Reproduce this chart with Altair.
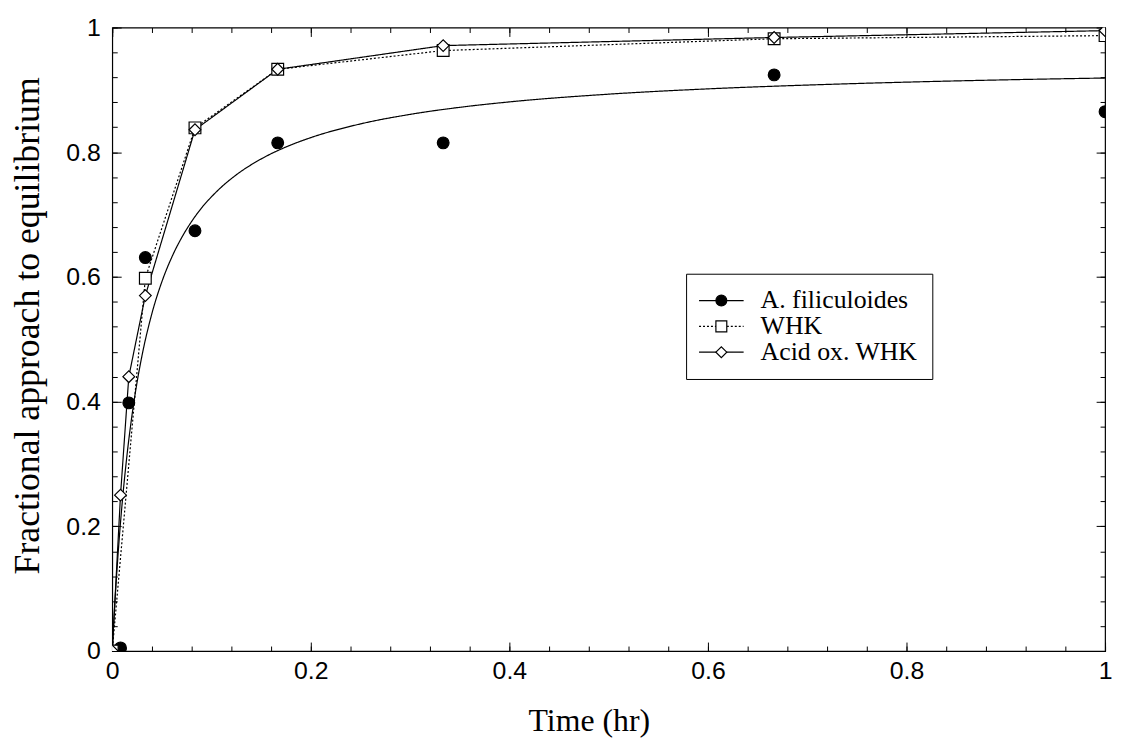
import altair as alt
import pandas as pd

SERIES = ["A. filiculoides", "WHK", "Acid ox. WHK"]
# marker legend keys (kept distinct so the marker legend stays a separate overlay)
MARKER_KEYS = ["A. filiculoides ", "WHK ", "Acid ox. WHK "]

# Measured points (time in hr, fractional approach to equilibrium)
afil_x = [0.00833, 0.01667, 0.03333, 0.08333, 0.16667, 0.33333, 0.66667, 1.0]
afil_y = [0.005, 0.398, 0.631, 0.674, 0.815, 0.815, 0.924, 0.865]

whk_x = [0.0, 0.03333, 0.08333, 0.16667, 0.33333, 0.66667, 1.0]
whk_y = [0.0, 0.598, 0.839, 0.933, 0.963, 0.982, 0.987]

acid_x = [0.0, 0.00833, 0.01667, 0.03333, 0.08333, 0.16667, 0.33333, 0.66667, 1.0]
acid_y = [0.0, 0.25, 0.44, 0.57, 0.836, 0.933, 0.971, 0.984, 0.995]

# Fitted curve for A. filiculoides
fit_x = [0.0, 0.0025, 0.005, 0.0075, 0.01, 0.015, 0.02, 0.025, 0.03, 0.04, 0.05,
         0.06, 0.07, 0.08, 0.09, 0.1, 0.11, 0.125, 0.15, 0.175, 0.2, 0.25, 0.3, 0.35, 0.4,
         0.5, 0.6, 0.7, 0.8, 0.9, 1.0]
fit_y = [0.0, 0.073, 0.1356, 0.1898, 0.2372, 0.3162, 0.3794, 0.431, 0.474, 0.5416,
         0.5923, 0.6317, 0.6632, 0.689, 0.7107, 0.7286, 0.7442, 0.7638, 0.7892, 0.8084,
         0.8234, 0.8454, 0.8607, 0.872, 0.8807, 0.8931, 0.9016, 0.9077, 0.9124, 0.9161, 0.919]

x_major = [0, 0.2, 0.4, 0.6, 0.8, 1.0]
y_major = [0, 0.2, 0.4, 0.6, 0.8, 1.0]
minor_ticks = [round(i * 0.04, 2) for i in range(26)]

# ---- tables ----
line_rows = []
for xs, ys, name in [(whk_x, whk_y, SERIES[1]), (acid_x, acid_y, SERIES[2])]:
    for i, (a, b) in enumerate(zip(xs, ys)):
        line_rows.append({"x": a, "y": b, "series": name, "idx": i})
lines_df = pd.DataFrame(line_rows)

fit_df = pd.DataFrame({"x": fit_x, "y": fit_y, "series": SERIES[0]})

pt_rows = []
for xs, ys, key in [(afil_x, afil_y, MARKER_KEYS[0]), (whk_x, whk_y, MARKER_KEYS[1]),
                    (acid_x, acid_y, MARKER_KEYS[2])]:
    for a, b in zip(xs, ys):
        pt_rows.append({"x": a, "y": b, "marker": key})
points_df = pd.DataFrame(pt_rows)

xscale = alt.Scale(domain=[0, 1], nice=False, zero=False)
yscale = alt.Scale(domain=[0, 1], nice=False, zero=False)

LABEL_FONT = "Liberation Sans"
TITLE_FONT = "Liberation Serif"


def axis(orient, values, size, labels=False, title=None, **kw):
    return alt.Axis(
        orient=orient, values=values, tickSize=size, offset=-size,
        labels=labels, title=title, domain=False, grid=False, ticks=True,
        tickColor="black", tickWidth=1, labelFont=LABEL_FONT, labelFontSize=25,
        labelColor="black", labelFlush=False, labelOverlap=False, format="~g",
        titleFont=TITLE_FONT, titleFontWeight="normal",
        titleColor="black", **kw)


LEG_X, LEG_Y = 578, 248
common_leg = dict(
    orient="none", legendX=LEG_X, legendY=LEG_Y, title=None, padding=14,
    rowPadding=0, symbolSize=120, symbolOffset=8.5, labelOffset=26.5,
    labelFont=TITLE_FONT, labelFontSize=26, labelLimit=400,
    symbolStrokeColor="black", symbolStrokeWidth=1.2, symbolOpacity=1,
)
marker_leg = dict(common_leg, labelExpr="''")

dash_scale = alt.Scale(domain=SERIES, range=[[1, 0], [2, 2], [1, 0]])

lines = alt.Chart(lines_df).mark_line(clip=True, strokeWidth=1.2, color="black").encode(
    x=alt.X("x:Q", scale=xscale,
            axis=axis("bottom", x_major, 9, labels=True, title="Time (hr)",
                      labelPadding=8, titlePadding=22, titleFontSize=32, titleX=480)),
    y=alt.Y("y:Q", scale=yscale,
            axis=axis("left", y_major, 9, labels=True,
                      title="Fractional approach to equilibrium",
                      labelPadding=12, titlePadding=20, titleFontSize=36, titleY=300)),
    strokeDash=alt.StrokeDash(
        "series:N", scale=dash_scale,
        legend=alt.Legend(symbolType="M-4.1,0L4.1,0", labelColor="black",
                          strokeColor="black", **common_leg)),
    detail="series:N",
    order="idx:Q",
)

fit = alt.Chart(fit_df).mark_line(clip=True, strokeWidth=1.2, color="black",
                                  interpolate="monotone").encode(
    x=alt.X("x:Q", scale=xscale, axis=None),
    y=alt.Y("y:Q", scale=yscale, axis=None),
    strokeDash=alt.StrokeDash("series:N", scale=dash_scale),
)

points = alt.Chart(points_df).mark_point(
    clip=True, filled=False, size=140, strokeWidth=1.2, opacity=1
).encode(
    x=alt.X("x:Q", scale=xscale, axis=axis("bottom", minor_ticks, 5)),
    y=alt.Y("y:Q", scale=yscale, axis=axis("left", minor_ticks, 5)),
    shape=alt.Shape("marker:N",
                    scale=alt.Scale(domain=MARKER_KEYS, range=["circle", "square", "diamond"]),
                    legend=alt.Legend(**marker_leg)),
    fill=alt.Fill("marker:N",
                  scale=alt.Scale(domain=MARKER_KEYS, range=["black", "white", "white"]),
                  legend=alt.Legend(**marker_leg)),
    stroke=alt.Stroke("marker:N",
                      scale=alt.Scale(domain=MARKER_KEYS, range=["black", "black", "black"]),
                      legend=alt.Legend(**marker_leg)),
)

top_major = alt.Chart(points_df).mark_point(opacity=0).encode(
    x=alt.X("x:Q", scale=xscale, axis=axis("top", x_major, 9)),
    y=alt.Y("y:Q", scale=yscale, axis=axis("right", y_major, 9)),
)

top_minor = alt.Chart(points_df).mark_point(opacity=0).encode(
    x=alt.X("x:Q", scale=xscale, axis=axis("top", minor_ticks, 5)),
    y=alt.Y("y:Q", scale=yscale, axis=axis("right", minor_ticks, 5)),
)

chart = alt.layer(lines, fit, points, top_major, top_minor).resolve_axis(
    x="independent", y="independent"
).properties(
    width=1000, height=628,
    padding={"left": 105, "top": 17, "right": 9, "bottom": 90},
    autosize=alt.AutoSizeParams(type="none"),
    background="white",
).configure_view(stroke="black", strokeWidth=1.2)

chart.save("out.html", embed_options={"renderer": "svg", "actions": False})
